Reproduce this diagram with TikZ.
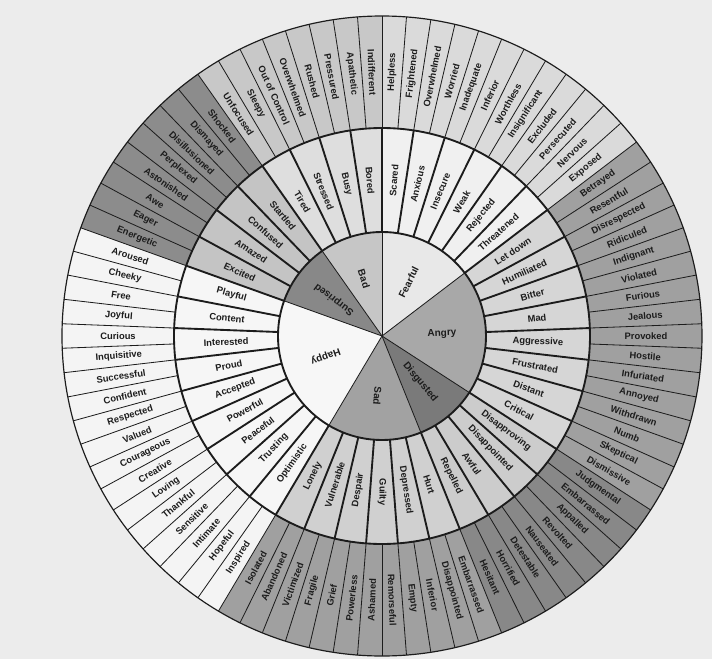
\documentclass[tikz,border=0pt]{standalone}
\usepackage{fontspec}
\setmainfont{Liberation Sans}
\usepackage{tikz}
\definecolor{photobg}{RGB}{236,236,236}
\definecolor{inkgray}{RGB}{28,28,28}
\definecolor{fearin}{RGB}{232,232,232}
\definecolor{fearmid}{RGB}{240,240,240}
\definecolor{fearout}{RGB}{218,218,218}
\definecolor{angerin}{RGB}{168,168,168}
\definecolor{angermid}{RGB}{214,214,214}
\definecolor{angerout}{RGB}{160,160,160}
\definecolor{disgin}{RGB}{122,122,122}
\definecolor{disgmid}{RGB}{204,204,204}
\definecolor{disgout}{RGB}{136,136,136}
\definecolor{sadin}{RGB}{162,162,162}
\definecolor{sadmid}{RGB}{208,208,208}
\definecolor{sadout}{RGB}{160,160,160}
\definecolor{happyin}{RGB}{247,247,247}
\definecolor{happymid}{RGB}{246,246,246}
\definecolor{happyout}{RGB}{244,244,244}
\definecolor{surpin}{RGB}{136,136,136}
\definecolor{surpmid}{RGB}{196,196,196}
\definecolor{surpout}{RGB}{140,140,140}
\definecolor{badin}{RGB}{198,198,198}
\definecolor{badmid}{RGB}{222,222,222}
\definecolor{badout}{RGB}{200,200,200}

\begin{document}
\begin{tikzpicture}[scale=0.03,
    feel/.style={font=\fontsize{8}{9}\selectfont\bfseries, text=inkgray, inner sep=0pt},
    core/.style={feel, font=\fontsize{8.5}{9}\selectfont\bfseries},
    cellline/.style={line width=1.6pt, draw=inkgray},
    fineline/.style={line width=0.7pt, draw=inkgray}
]
\useasboundingbox[fill=photobg] (-382,-323) rectangle (330,336);

\def\rin{104}
\def\rmid{208}
\def\rout{320}
\pgfmathsetmacro{\dmid}{360/41}
\pgfmathsetmacro{\dout}{360/82}

% families, clockwise from the top: first cell / cells / colours / turn / name
\foreach \k/\n/\ci/\cm/\co/\turn/\fam in {0/6/fearin/fearmid/fearout/0/Fearful,
    6/8/angerin/angermid/angerout/0/Angry,
    14/4/disgin/disgmid/disgout/0/Disgusted,
    18/6/sadin/sadmid/sadout/0/Sad,
    24/9/happyin/happymid/happyout/0/Happy,
    33/4/surpin/surpmid/surpout/0/Surprised,
    37/4/badin/badmid/badout/180/Bad} {
  \pgfmathsetmacro{\sa}{90-\k*\dmid}
  \pgfmathsetmacro{\sb}{90-(\k+\n)*\dmid}
  \pgfmathsetmacro{\mang}{(\sa+\sb)/2}
  \fill[\ci] (0,0) -- (\sa:\rin) arc[start angle=\sa, end angle=\sb, radius=\rin] -- cycle;
  \fill[\cm] (\sa:\rin) -- (\sa:\rmid) arc[start angle=\sa, end angle=\sb, radius=\rmid]
    -- (\sb:\rin) arc[start angle=\sb, end angle=\sa, radius=\rin] -- cycle;
  \fill[\co] (\sa:\rmid) -- (\sa:\rout) arc[start angle=\sa, end angle=\sb, radius=\rout]
    -- (\sb:\rmid) arc[start angle=\sb, end angle=\sa, radius=\rmid] -- cycle;
  \draw[fineline] (0,0) -- (\sa:\rin);
  \node[core, rotate=\mang+\turn] (core-\fam) at (\mang:60) {\fam};
}

% middle ring
\foreach \w [count=\i from 0] in {Scared, Anxious, Insecure, Weak, Rejected, Threatened,
    Let down, Humiliated, Bitter, Mad, Aggressive, Frustrated, Distant, Critical,
    Disapproving, Disappointed, Awful, Repelled,
    Hurt, Depressed, Guilty, Despair, Vulnerable, Lonely,
    Optimistic, Trusting, Peaceful, Powerful, Accepted, Proud, Interested, Content, Playful,
    Excited, Amazed, Confused, Startled,
    Tired, Stressed, Busy, Bored} {
  \pgfmathsetmacro{\mang}{90-(\i+0.5)*\dmid}
  \pgfmathsetmacro{\rot}{\mang<-90 ? \mang+180 : \mang}
  \node[feel, rotate=\rot] (mid-\i) at (\mang:156) {\w};
  \draw[cellline] (90-\i*\dmid:\rin) -- (90-\i*\dmid:\rmid);
}

% outer ring
\foreach \w [count=\i from 0] in {Helpless, Frightened, Overwhelmed, Worried, Inadequate, Inferior,
    Worthless, Insignificant, Excluded, Persecuted, Nervous, Exposed,
    Betrayed, Resentful, Disrespected, Ridiculed, Indignant, Violated, Furious, Jealous,
    Provoked, Hostile, Infuriated, Annoyed, Withdrawn, Numb, Skeptical, Dismissive,
    Judgmental, Embarrassed, Appalled, Revolted, Nauseated, Detestable, Horrified, Hesitant,
    Embarrassed, Disappointed, Inferior, Empty, Remorseful, Ashamed,
    Powerless, Grief, Fragile, Victimized, Abandoned, Isolated,
    Inspired, Hopeful, Intimate, Sensitive, Thankful, Loving, Creative, Courageous,
    Valued, Respected, Confident, Successful, Inquisitive, Curious, Joyful, Free, Cheeky, Aroused,
    Energetic, Eager, Awe, Astonished, Perplexed, Disillusioned, Dismayed, Shocked,
    Unfocused, Sleepy, Out of Control, Overwhelmed, Rushed, Pressured, Apathetic, Indifferent} {
  \pgfmathsetmacro{\mang}{90-(\i+0.5)*\dout}
  \pgfmathsetmacro{\rot}{\mang<-90 ? \mang+180 : \mang}
  \node[feel, rotate=\rot] (out-\i) at (\mang:264) {\w};
  \draw[fineline] (90-\i*\dout:\rmid) -- (90-\i*\dout:\rout);
}

\draw[cellline] (0,0) circle[radius=\rin];
\draw[cellline] (0,0) circle[radius=\rmid];
\draw[line width=1pt, draw=inkgray] (0,0) circle[radius=\rout];

\end{tikzpicture}
\end{document}
